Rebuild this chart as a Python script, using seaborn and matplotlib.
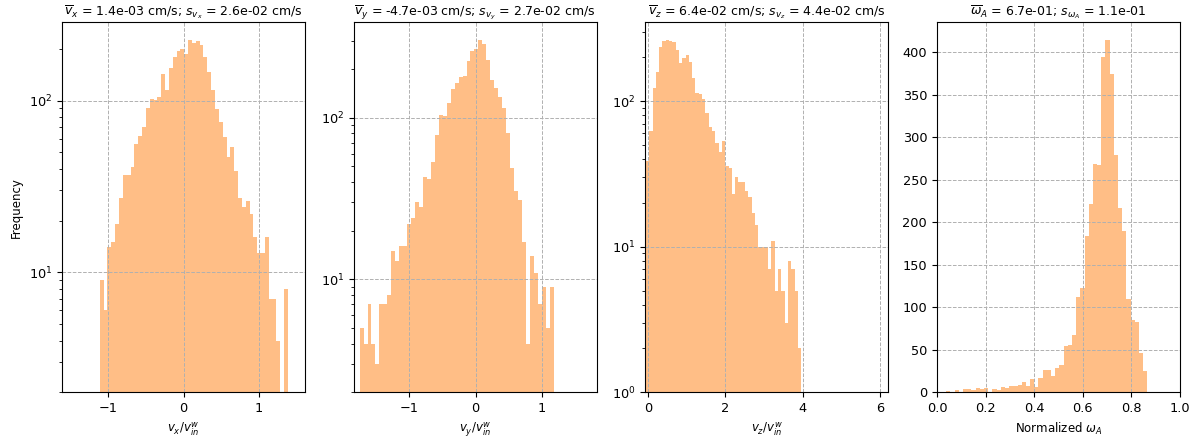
import numpy as np
import pandas as pd
import matplotlib
matplotlib.use("Agg")
import matplotlib.pyplot as plt
import seaborn as sns

# Histogram counts per bin (equal-width bins between the given data range)
vx_range = (-1.113, 1.388)
vx_counts = [9, 6, 14, 15, 19, 27, 37, 37, 41, 56, 62, 70, 90, 102, 101, 105,
             143, 115, 154, 179, 195, 199, 187, 226, 218, 223, 212, 180, 147,
             115, 89, 75, 61, 47, 54, 39, 27, 24, 26, 22, 16, 13, 13, 16, 7, 7,
             4, 0, 8]

vy_range = (-1.746, 1.172)
vy_counts = [5, 4, 7, 4, 3, 7, 7, 8, 15, 13, 16, 16, 22, 24, 30, 28, 43, 42, 53,
             78, 104, 102, 123, 150, 165, 178, 181, 224, 258, 266, 301, 284,
             227, 171, 153, 134, 115, 81, 49, 35, 31, 17, 4, 14, 11, 7, 9, 5, 9]

vz_range = (-0.052, 3.966)
vz_counts = [39, 62, 123, 159, 236, 259, 264, 259, 255, 223, 183, 197, 208, 186,
             144, 114, 112, 104, 83, 67, 62, 52, 45, 53, 36, 35, 23, 30, 28, 28,
             24, 22, 17, 14, 10, 10, 10, 7, 11, 5, 7, 5, 3, 8, 7, 5, 2]

wa_range = (0.0384, 0.8658)
wa_counts = [2, 0, 3, 0, 4, 4, 3, 5, 4, 5, 0, 4, 3, 6, 5, 7, 7, 9, 12, 7, 16, 6,
             17, 26, 26, 19, 29, 32, 55, 56, 68, 112, 123, 184, 222, 269, 267,
             394, 415, 374, 279, 217, 190, 110, 85, 83, 46, 25]

titles = [
    r"$\overline{v}_x$ = 1.4e-03 cm/s; $s_{v_x}$ = 2.6e-02 cm/s",
    r"$\overline{v}_y$ = -4.7e-03 cm/s; $s_{v_y}$ = 2.7e-02 cm/s",
    r"$\overline{v}_z$ = 6.4e-02 cm/s; $s_{v_z}$ = 4.4e-02 cm/s",
    r"$\overline{\omega}_A$ = 6.7e-01; $s_{\omega_A}$ = 1.1e-01",
]
xlabels = [r"$v_x/v_{in}^w$", r"$v_y/v_{in}^w$", r"$v_z/v_{in}^w$",
           r"Normalized $\omega_A$"]
xticks = [[-1, 0, 1], [-1, 0, 1], [0, 2, 4, 6],
          [0.0, 0.2, 0.4, 0.6, 0.8, 1.0]]

plt.rcParams.update({
    "font.size": 8.5,
    "xtick.labelsize": 9.3,
    "ytick.labelsize": 9.3,
    "axes.titlesize": 9,
    "axes.titlepad": 5,
    "axes.linewidth": 0.8,
})

fig, axes = plt.subplots(1, 4, figsize=(12.02, 4.4), dpi=100)
fig.subplots_adjust(left=0.0516, right=0.9817, bottom=0.1084, top=0.95,
                    wspace=0.2)

panels = [
    (vx_range, vx_counts, True, (-1.615, 1.615), (2.0, 287)),
    (vy_range, vy_counts, True, (-1.835, 1.82), (2.0, 391)),
    (vz_range, vz_counts, True, (-0.067, 6.22), (1.0, 350)),
    (wa_range, wa_counts, False, (0.0, 1.0), None),
]

for ax, (rng, counts, logy, xlim, ylim), title, xlabel, ticks in zip(
        axes, panels, titles, xlabels, xticks):
    nbins = len(counts)
    width = (rng[1] - rng[0]) / nbins
    centers = rng[0] + width * (np.arange(nbins) + 0.5)
    df = pd.DataFrame({"value": centers, "count": counts})
    sns.histplot(data=df, x="value", weights="count", bins=nbins,
                 binrange=rng, ax=ax, color="#ff7f0e", alpha=0.5,
                 linewidth=0, edgecolor="none")
    if logy:
        ax.set_yscale("log")
    ax.set_xticks(ticks)
    ax.set_xlim(*xlim)
    if ylim is not None:
        ax.set_ylim(*ylim)
    ax.grid(True, which="major", linestyle="--", color="#b0b0b0",
            linewidth=0.7)
    ax.set_title(title)
    ax.set_xlabel(xlabel)
    ax.set_ylabel("")

axes[0].set_ylabel("Frequency")
axes[3].set_yticks(np.arange(0, 401, 50))

fig.savefig("out.png", dpi=100)
